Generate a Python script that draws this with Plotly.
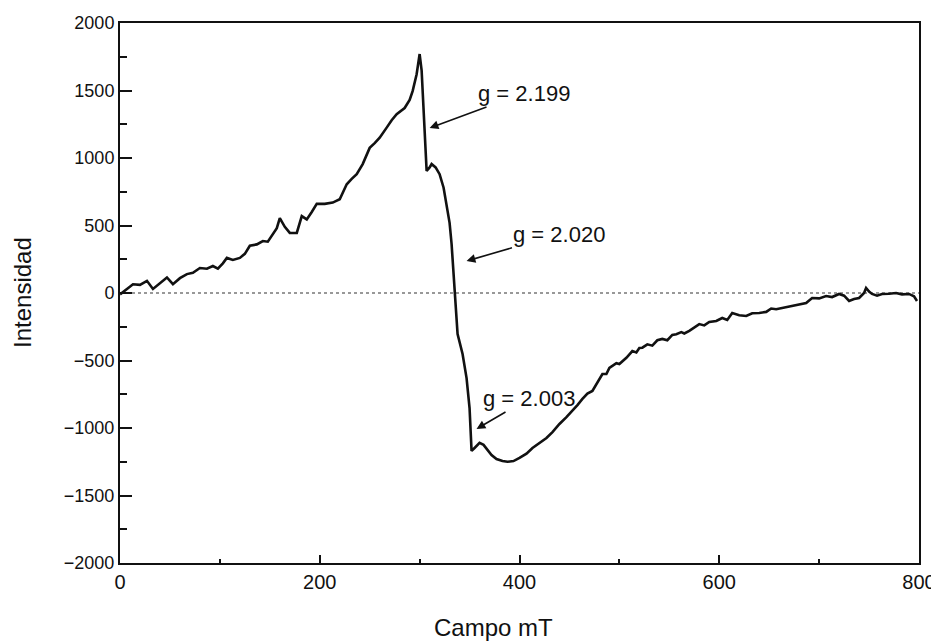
import plotly.graph_objects as go

# EPR spectrum
campo_mT = [0, 5, 13, 20, 27, 33, 40, 47, 53, 60, 67, 73, 80, 87, 93, 98, 103, 107, 113, 120,
            125, 130, 137, 143, 148, 153, 157, 160, 165, 170, 177, 182, 187, 192, 197, 205, 213,
            220, 227, 232, 237, 243, 250, 255, 260, 267, 272, 277, 285, 290, 293, 297, 300, 302,
            303, 305, 307, 310, 312, 316, 320, 324, 327, 330, 332, 335, 338, 343, 347, 350, 352,
            355, 360, 364, 367, 372, 377, 383, 388, 394, 400, 407, 413, 420, 427, 433, 440, 447,
            453, 458, 463, 468, 473, 478, 483, 487, 490, 497, 500, 507, 513, 517, 520, 523, 528,
            533, 538, 543, 548, 553, 557, 562, 565, 570, 575, 580, 585, 590, 597, 603, 608, 613,
            620, 627, 633, 640, 647, 652, 657, 663, 668, 673, 680, 687, 690, 693, 700, 707, 713,
            720, 725, 730, 735, 740, 745, 747, 750, 753, 758, 763, 770, 777, 783, 790, 795, 798]
intensidad = [-10, 20, 65, 60, 90, 30, 75, 115, 65, 110, 140, 150, 185, 180, 200, 180, 220, 260, 245, 260,
              290, 350, 360, 385, 380, 435, 480, 555, 490, 445, 445, 570, 545, 600, 660, 660, 670,
              695, 805, 845, 880, 955, 1075, 1110, 1150, 1225, 1280, 1325, 1370, 1430, 1495, 1620, 1770, 1650,
              1500, 1100, 905, 930, 955, 930, 880, 780, 660, 520, 363, 37, -304, -452, -630, -852, -1170,
              -1148, -1110, -1125, -1155, -1200, -1230, -1245, -1250, -1245, -1222, -1190, -1148, -1110, -1074, -1030, -970, -920,
              -874, -830, -785, -745, -726, -660, -600, -600, -555, -520, -526, -480, -430, -440, -407, -405, -380,
              -390, -350, -340, -350, -310, -305, -290, -300, -280, -255, -230, -240, -215, -207, -185, -200, -148,
              -165, -170, -150, -148, -140, -115, -120, -110, -100, -96, -85, -74, -55, -37, -40, -22, -30,
              -7, -20, -59, -45, -37, 0, 37, 10, -7, -20, -7, -5, 0, -10, -7, -25, -59]

# annotations: label, arrow tip (x, y), label centre (x, y)
g_labels = ["g = 2.199", "g = 2.020", "g = 2.003"]
tip_x = [310, 347, 357]
tip_y = [1222, 237, -1007]
lab_x = [405, 440, 410]
lab_y = [1481, 437, -778]

x_ticks = [0, 200, 400, 600, 800]
y_ticks = [-2000, -1500, -1000, -500, 0, 500, 1000, 1500, 2000]

FONT = "Arial, Liberation Sans, sans-serif"

fig = go.Figure()
fig.add_trace(go.Scatter(x=[0, 800], y=[0, 0], mode="lines",
                         line=dict(color="#333", width=1.2, dash="dot"),
                         showlegend=False, hoverinfo="skip"))
fig.add_trace(go.Scatter(x=campo_mT, y=intensidad, mode="lines",
                         line=dict(color="#111", width=2.6),
                         showlegend=False))

for t, tx, ty, lx, ly in zip(g_labels, tip_x, tip_y, lab_x, lab_y):
    fig.add_annotation(x=tx, y=ty, ax=lx, ay=ly, axref="x", ayref="y", xref="x", yref="y",
                       text=t, showarrow=True, arrowhead=2, arrowsize=1.1, arrowwidth=1.6,
                       arrowcolor="#111", font=dict(family=FONT, size=22, color="#111"))

# axis titles
fig.add_annotation(text="Intensidad", xref="paper", yref="paper", x=0, y=0.5,
                   xshift=-98, textangle=-90, showarrow=False,
                   xanchor="center", yanchor="middle",
                   font=dict(family=FONT, size=24, color="#111"))
fig.add_annotation(text="Campo mT", xref="paper", yref="paper", x=0.467, y=0,
                   yshift=-80, showarrow=False, xanchor="center", yanchor="bottom",
                   font=dict(family=FONT, size=24, color="#111"))

# page body adds an 8px offset, so the figure is drawn 8px smaller
fig.update_layout(
    width=931, height=635,
    margin=dict(l=112, r=20, t=15, b=80),
    paper_bgcolor="white", plot_bgcolor="white",
    font=dict(family=FONT, color="#111"),
)
fig.update_xaxes(range=[0, 800], tickvals=x_ticks, ticks="inside", ticklen=8, tickwidth=1.5,
                 tickcolor="#111", showline=True, linecolor="#111", linewidth=2, mirror=True,
                 showgrid=False, zeroline=False, tickfont=dict(size=20), automargin=False,
                 minor=dict(dtick=100, ticks="inside", ticklen=4, tickcolor="#111"))
fig.update_yaxes(range=[-2000, 2000], tickvals=y_ticks, ticks="inside", ticklen=12, tickwidth=1.5,
                 tickcolor="#111", showline=True, linecolor="#111", linewidth=2, mirror=True,
                 showgrid=False, zeroline=False, tickfont=dict(size=18), automargin=False,
                 minor=dict(dtick=250, ticks="inside", ticklen=7, tickcolor="#111"))

fig.write_html("out.html")
